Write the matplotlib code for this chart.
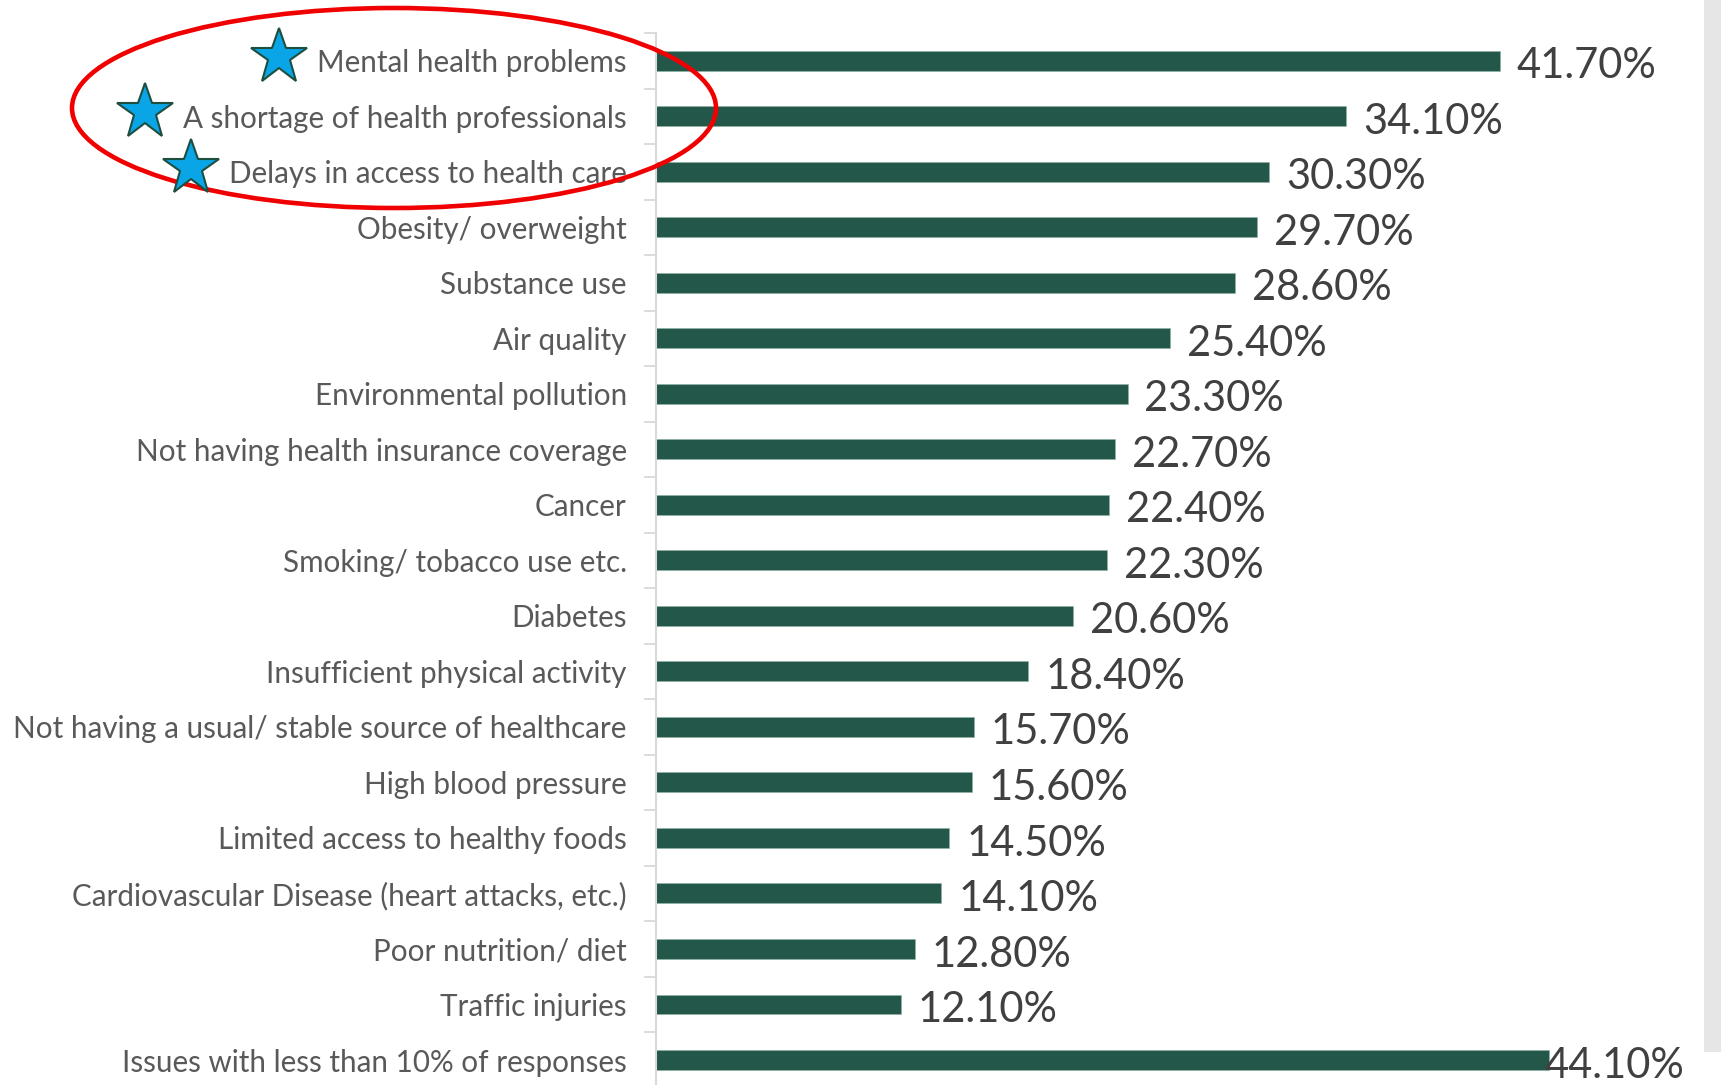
import matplotlib
matplotlib.use("Agg")
import matplotlib.pyplot as plt
from matplotlib.patches import Ellipse, Rectangle

categories = [
    "Mental health problems",
    "A shortage of health professionals",
    "Delays in access to health care",
    "Obesity/ overweight",
    "Substance use",
    "Air quality",
    "Environmental pollution",
    "Not having health insurance coverage",
    "Cancer",
    "Smoking/ tobacco use etc.",
    "Diabetes",
    "Insufficient physical activity",
    "Not having a usual/ stable source of healthcare",
    "High blood pressure",
    "Limited access to healthy foods",
    "Cardiovascular Disease (heart attacks, etc.)",
    "Poor nutrition/ diet",
    "Traffic injuries",
    "Issues with less than 10% of responses",
]
values = [41.7, 34.1, 30.3, 29.7, 28.6, 25.4, 23.3, 22.7, 22.4, 22.3,
          20.6, 18.4, 15.7, 15.6, 14.5, 14.1, 12.8, 12.1, 44.1]
starred = [0, 1, 2]

W, H = 1721, 1085
fig = plt.figure(figsize=(W / 100, H / 100), dpi=100)
fig.patch.set_facecolor("white")

# axes placed in pixel terms of the reference
ax_left, ax_right = 656, 1705
ax = fig.add_axes([ax_left / W, 0, (ax_right - ax_left) / W, 1 - 33 / H])

n = len(categories)
ypos = list(range(n))
ax.barh(ypos, values, height=0.36, color="#23574A", edgecolor="#8fb3a6", linewidth=0.4)

ax.set_xlim(0, (ax_right - ax_left) / 20.24)
ax.set_ylim(18.45, -0.486)

ax.set_yticks(ypos)
ax.set_yticklabels(categories, fontsize=21.3, color="#595959", family=["Lato", "DejaVu Sans"])
ax.set_yticks([i - 0.5 for i in range(n)], minor=True)
ax.tick_params(axis="y", which="major", length=0, pad=21)
ax.tick_params(axis="y", which="minor", length=9, width=1.3, color="#d9d9d9")
ax.set_xticks([])
for s in ["top", "right", "bottom"]:
    ax.spines[s].set_visible(False)
ax.spines["left"].set_color("#d9d9d9")
ax.spines["left"].set_linewidth(1.5)

for i, v in enumerate(values):
    dx = 12 if i < n - 1 else -3
    ax.annotate(f"{v:.2f}%", xy=(v, i), xytext=(dx, -4), textcoords="offset points",
                ha="left", va="center", fontsize=30, color="#404040",
                family=["Lato", "DejaVu Sans"], annotation_clip=False)

# grey strip at the right edge
fig.add_artist(Rectangle((1704 / W, 1 - 1052 / H), 17 / W, 1052 / H,
                         transform=fig.transFigure, facecolor="#e6e6e6", edgecolor="none"))

# stars next to the highlighted labels
fig.canvas.draw()
renderer = fig.canvas.get_renderer()
labels = ax.get_yticklabels()
inv = fig.transFigure.inverted()
for i in starred:
    bb = labels[i].get_window_extent(renderer)
    ypix = ax.transData.transform((0, i))[1] + 4
    fx, fy = inv.transform((bb.x0 - 38, ypix))
    fig.add_artist(plt.Line2D([fx], [fy], marker="*", markersize=42,
                              markerfacecolor="#0AA5E6", markeredgecolor="#1D4E40",
                              markeredgewidth=1.5, transform=fig.transFigure))

# red ellipse around the top three
fig.add_artist(Ellipse((394 / W, 1 - 108 / H), 644 / W, 200 / H,
                       transform=fig.transFigure, fill=False,
                       edgecolor="#F00000", linewidth=3.3))

fig.savefig("out.png", dpi=100)
